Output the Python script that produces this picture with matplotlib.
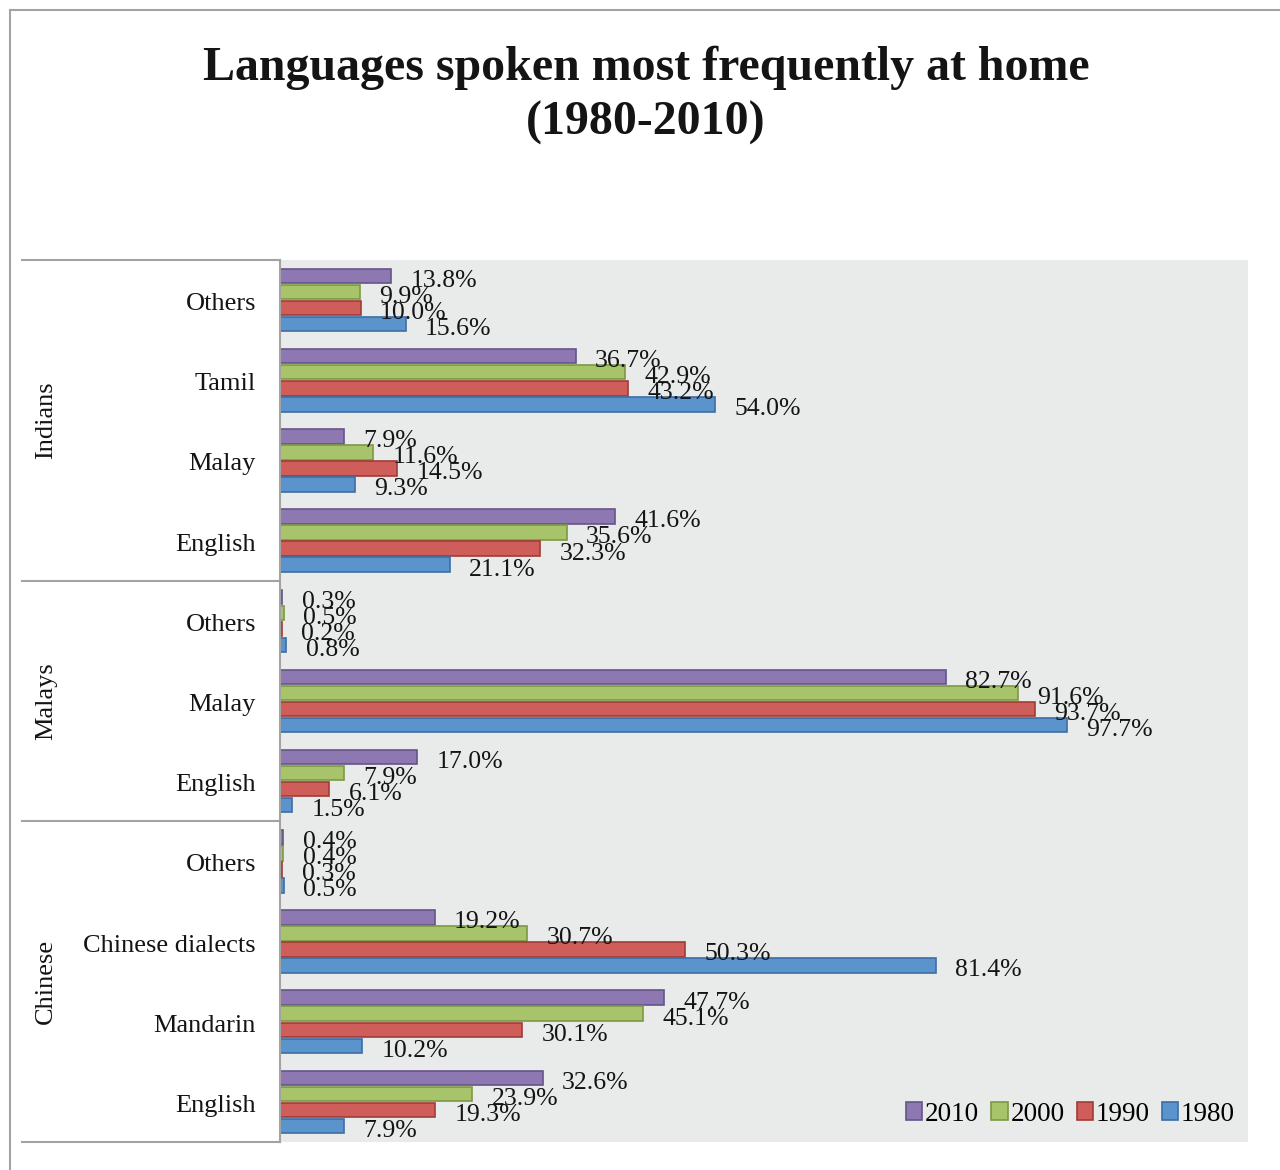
import matplotlib
matplotlib.use("Agg")
import matplotlib.pyplot as plt
from matplotlib.lines import Line2D
from matplotlib.patches import Patch

plt.rcParams['font.family'] = ['Liberation Serif', 'DejaVu Serif']

# Ethnic groups and the languages listed under each (top to bottom)
groups = ["Indians", "Malays", "Chinese"]
group_languages = [
    ["Others", "Tamil", "Malay", "English"],
    ["Others", "Malay", "English"],
    ["Others", "Chinese dialects", "Mandarin", "English"],
]
years = ["2010", "2000", "1990", "1980"]

# Share (%) speaking each language most frequently at home, in the row order above
values_2010 = [13.8, 36.7, 7.9, 41.6, 0.3, 82.7, 17.0, 0.4, 19.2, 47.7, 32.6]
values_2000 = [9.9, 42.9, 11.6, 35.6, 0.5, 91.6, 7.9, 0.4, 30.7, 45.1, 23.9]
values_1990 = [10.0, 43.2, 14.5, 32.3, 0.2, 93.7, 6.1, 0.3, 50.3, 30.1, 19.3]
values_1980 = [15.6, 54.0, 9.3, 21.1, 0.8, 97.7, 1.5, 0.5, 81.4, 10.2, 7.9]

series = [values_2010, values_2000, values_1990, values_1980]
face_colors = ["#8e78b2", "#a7c46a", "#cf5e5a", "#5b93cd"]
edge_colors = ["#65548a", "#7c9842", "#a03c38", "#3b6ea5"]
text_color = "#141414"

W, H = 1280, 1170
fig = plt.figure(figsize=(W / 100, H / 100), dpi=100)
fig.patch.set_facecolor("white")

ax_left, ax_right, ax_top, ax_bottom = 280, 1248, 260, 1142
ax = fig.add_axes([ax_left / W, 1 - ax_bottom / H,
                   (ax_right - ax_left) / W, (ax_bottom - ax_top) / H])
ax.set_facecolor("#e9eaea")

labels = [lang for langs in group_languages for lang in langs]
n = len(labels)
offsets = [-0.3, -0.1, 0.1, 0.3]
bar_h = 0.18

for vals, off, fc, ec, yr in zip(series, offsets, face_colors, edge_colors, years):
    ys = [i + off for i in range(n)]
    ax.barh(ys, vals, height=bar_h, color=fc, edgecolor=ec, linewidth=1.2, label=yr)
    for y, v in zip(ys, vals):
        ax.annotate(f"{v:.1f}%", xy=(v, y), xytext=(14, -3.5), textcoords="offset points",
                    ha="left", va="center", fontsize=18.5, color=text_color)

ax.set_xlim(0, 120.2)
ax.set_ylim(n - 0.5, -0.5)
ax.set_xticks([])
ax.set_yticks([])
for s in ax.spines.values():
    s.set_visible(False)

# Category labels and group labels in figure coordinates
def fy(py):
    return 1 - py / H

row_h = (ax_bottom - ax_top) / n
for i, lab in enumerate(labels):
    cy = ax_top + (i + 0.5) * row_h + 4
    fig.text(256 / W, fy(cy), lab, ha="right", va="center", fontsize=19, color=text_color)

gray = "#a3a3a3"
start = 0
seps = [ax_top]
for g, langs in zip(groups, group_languages):
    end = start + len(langs)
    top_px = ax_top + start * row_h
    bot_px = ax_top + end * row_h
    fig.text(46 / W, fy((top_px + bot_px) / 2), g, rotation=90, ha="center", va="center",
             fontsize=19, color=text_color)
    seps.append(bot_px)
    start = end

for py in seps:
    fig.add_artist(Line2D([22 / W, ax_left / W], [fy(py), fy(py)], color=gray, lw=1.5))
fig.add_artist(Line2D([ax_left / W, ax_left / W], [fy(ax_top), fy(ax_bottom)], color=gray, lw=1.5))

# Outer frame lines
fig.add_artist(Line2D([10 / W, 10 / W], [fy(10), 0], color=gray, lw=1.5))
fig.add_artist(Line2D([10 / W, 1], [fy(10), fy(10)], color=gray, lw=1.5))

fig.text(646 / W, fy(68), "Languages spoken most frequently at home", ha="center", va="center",
         fontsize=34.5, fontweight="bold", color=text_color)
fig.text(646 / W, fy(123), "(1980-2010)", ha="center", va="center",
         fontsize=34.5, fontweight="bold", color=text_color)

handles = [Patch(facecolor=fc, edgecolor=ec, linewidth=1.2) for fc, ec in zip(face_colors, edge_colors)]
leg = ax.legend(handles, years, loc="lower right", bbox_to_anchor=(1.006, -0.004), ncol=4,
                frameon=False, fontsize=19.5, handlelength=0.6, handleheight=0.6,
                handletextpad=0.1, columnspacing=0.45, borderaxespad=0.3)

fig.savefig("out.png", dpi=100)
